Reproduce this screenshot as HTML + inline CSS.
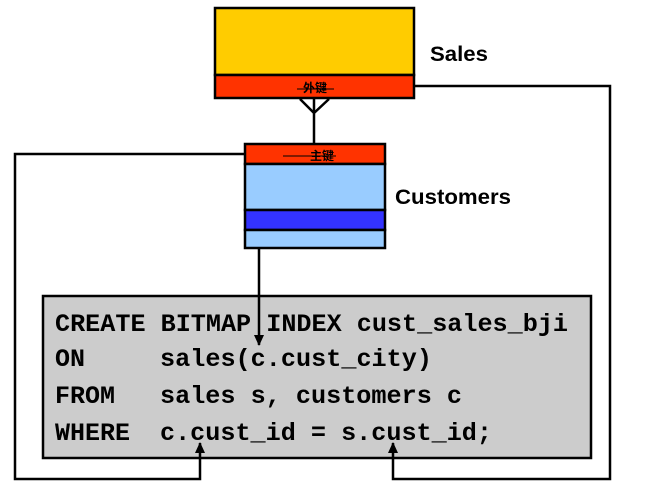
<!DOCTYPE html>
<html><head><meta charset="utf-8"><style>body{margin:0;background:#fff}svg{display:block}</style></head>
<body>
<svg width="665" height="482" viewBox="0 0 665 482" xmlns="http://www.w3.org/2000/svg">
<defs><marker id="a" markerWidth="12" markerHeight="12" refX="10" refY="5" orient="auto" markerUnits="userSpaceOnUse"><path d="M0,0 L11,5 L0,10 Z" fill="#000"/></marker></defs>
<!-- Sales -->
<rect x="215" y="8" width="199" height="67" fill="#ffcc00" stroke="#000" stroke-width="2.5"/>
<rect x="215" y="75" width="199" height="23" fill="#ff3300" stroke="#000" stroke-width="2.5"/>
<line x1="297" y1="89" x2="334" y2="89" stroke="#000" stroke-width="1"/>
<text x="315" y="92" font-family="Liberation Sans, Noto Sans CJK SC, sans-serif" font-size="12" font-weight="bold" text-anchor="middle">外键</text>
<text x="430" y="61" font-family="Liberation Sans, sans-serif" font-size="21" font-weight="bold" textLength="58" lengthAdjust="spacingAndGlyphs">Sales</text>
<!-- crow's foot -->
<path d="M300,99 L314,113 L329,99 M314,99 L314,143" stroke="#000" stroke-width="2.5" fill="none"/>
<!-- Customers -->
<rect x="245" y="144" width="140" height="20" fill="#ff3300" stroke="#000" stroke-width="2.5"/>
<rect x="245" y="164" width="140" height="46" fill="#99ccff" stroke="#000" stroke-width="2.5"/>
<rect x="245" y="210" width="140" height="20" fill="#3333ff" stroke="#000" stroke-width="2.5"/>
<rect x="245" y="230" width="140" height="18" fill="#99ccff" stroke="#000" stroke-width="2.5"/>
<line x1="283" y1="156" x2="336" y2="156" stroke="#000" stroke-width="1"/>
<text x="322" y="160" font-family="Liberation Sans, Noto Sans CJK SC, sans-serif" font-size="12" font-weight="bold" text-anchor="middle">主键</text>
<text x="395" y="204" font-family="Liberation Sans, sans-serif" font-size="21" font-weight="bold" textLength="116" lengthAdjust="spacingAndGlyphs">Customers</text>
<!-- code box -->
<rect x="43" y="296" width="548" height="162" fill="#cccccc" stroke="#000" stroke-width="2.5"/>
<g font-family="Liberation Mono, monospace" font-size="25" font-weight="bold" fill="#000">
<text x="55" y="331" textLength="513" lengthAdjust="spacingAndGlyphs">CREATE BITMAP INDEX cust_sales_bji</text>
<text x="55" y="366">ON</text>
<text x="160" y="366" textLength="272" lengthAdjust="spacingAndGlyphs">sales(c.cust_city)</text>
<text x="55" y="403" textLength="60" lengthAdjust="spacingAndGlyphs">FROM</text>
<text x="160" y="403" textLength="302" lengthAdjust="spacingAndGlyphs">sales s, customers c</text>
<text x="55" y="440" textLength="75" lengthAdjust="spacingAndGlyphs">WHERE</text>
<text x="160" y="440" textLength="332" lengthAdjust="spacingAndGlyphs">c.cust_id = s.cust_id;</text>
</g>
<!-- connectors -->
<g stroke="#000" stroke-width="2.5" fill="none">
<path d="M259,248 L259,345" marker-end="url(#a)"/>
<path d="M245,154 L15,154 L15,479 L200,479 L200,443" marker-end="url(#a)"/>
<path d="M414,86 L610,86 L610,479 L393,479 L393,443" marker-end="url(#a)"/>
</g>
</svg>
</body></html>
